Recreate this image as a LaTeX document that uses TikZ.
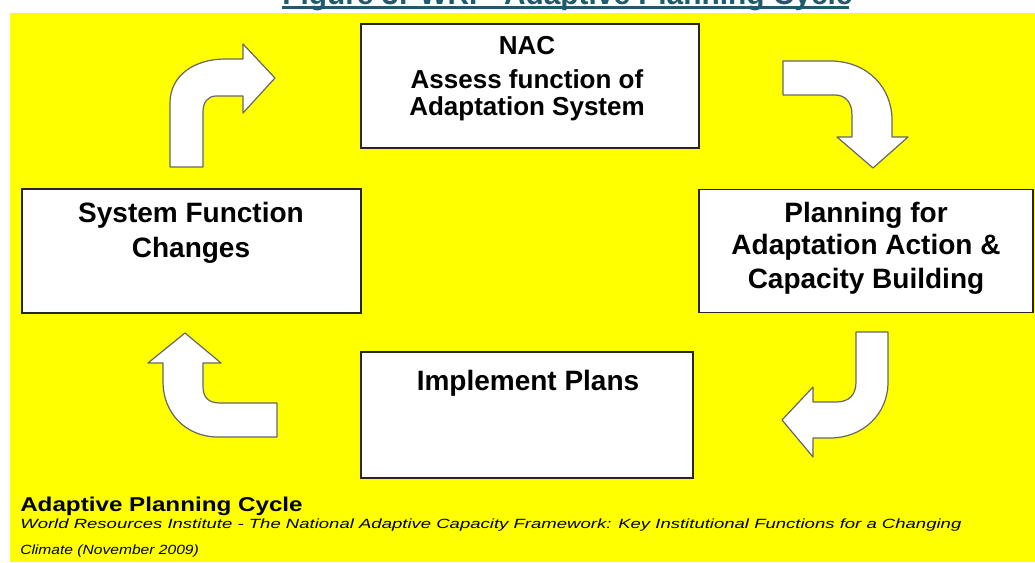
\documentclass[tikz,border=0pt]{standalone}
\usepackage{fontspec}
\setmainfont{Liberation Sans}
\usepackage{graphicx}
\definecolor{bgyellow}{RGB}{255,255,0}
\definecolor{titleteal}{RGB}{31,90,110}
\begin{document}
\begin{tikzpicture}[x=0.75pt,y=-0.75pt,
  box/.style={draw=black!85, fill=white, line width=1.1pt, inner sep=0pt},
  big/.style={font=\fontsize{21}{25}\selectfont\bfseries, inner sep=0pt, anchor=base},
  nactxt/.style={font=\fontsize{19.5}{23}\selectfont\bfseries, inner sep=0pt, anchor=base},
  barrow/.style={fill=white, draw=black!60, line width=0.9pt, line join=round},
  srctxt/.style={font=\fontsize{10}{12}\selectfont\itshape, inner sep=0pt, anchor=base west},
]
\useasboundingbox (0,0) rectangle (1035,562);
% title (cut at top)
\begin{scope}
\clip (0,0) rectangle (1035,562);
\node[font=\fontsize{22.4}{26}\selectfont\bfseries, text=titleteal, anchor=base west, inner sep=0pt] (title) at (282,4) {Figure 3: WRI - Adaptive Planning Cycle};
\end{scope}
\coordinate (ul1) at (282,7.3);
\coordinate (ul2) at (849,7.3);
\draw[titleteal, line width=1.9pt] (ul1) -- (ul2);
% yellow background
\fill[bgyellow] (10,13) rectangle (1035,562);

% boxes
\node[box, minimum width=338*0.75pt, minimum height=124*0.75pt] (nac) at (530,86) {};
\node[box, minimum width=339*0.75pt, minimum height=124*0.75pt] (sfc) at (191.5,251) {};
\node[box, minimum width=334*0.75pt, minimum height=123*0.75pt] (plan) at (866,251) {};
\node[box, minimum width=332*0.75pt, minimum height=126*0.75pt] (impl) at (527,415) {};

% texts
\node[nactxt] (nac1) at (527,54) {NAC};
\node[nactxt] (nac2) at (527,88) {Assess function of};
\node[nactxt] (nac3) at (527,115) {Adaptation System};
\node[big] (sfc1) at (191,222) {System Function};
\node[big] (sfc2) at (191,257) {Changes};
\node[big] (plan1) at (866,222) {Planning for};
\node[big] (plan2) at (866,254) {Adaptation Action \&};
\node[big] (plan3) at (866,288) {Capacity Building};
\node[big] (impl1) at (528,390) {Implement Plans};

% curved block arrows
\draw[barrow] (170,167) -- (170,103) .. controls (170,75) and (195,59) .. (225,59)
  -- (243,59) -- (243,44) -- (275,78) -- (243,113) -- (243,96) -- (216,96)
  .. controls (208,96) and (203,102) .. (203,112) -- (203,167) -- cycle;
\draw[barrow] (783,61) -- (830,61) .. controls (868,61) and (892,88) .. (892,120)
  -- (892,137) -- (908,137) -- (873,168) -- (837,137) -- (852,137) -- (852,115)
  .. controls (852,103) and (846,95) .. (835,95) -- (783,95) -- cycle;
\draw[barrow] (888,332) -- (888,382) .. controls (888,415) and (862,438) .. (830,438)
  -- (813,438) -- (813,457) -- (782,420) -- (813,387) -- (813,402) -- (836,402)
  .. controls (849,402) and (856,395) .. (856,382) -- (856,332) -- cycle;
\draw[barrow] (277,437) -- (218,437) .. controls (185,437) and (163,412) .. (163,382)
  -- (163,363) -- (148,363) -- (185,333) -- (221,363) -- (203,363) -- (203,386)
  .. controls (203,397) and (208,403) .. (220,403) -- (277,403) -- cycle;

% caption
\node[font=\fontsize{15}{18}\selectfont\bfseries, inner sep=0pt, anchor=base west] (cap) at (20,511) {\scalebox{1.21}[1]{Adaptive Planning Cycle}};
\node[srctxt] (src1) at (20,528) {\scalebox{1.39}[1]{World Resources Institute - The National Adaptive Capacity Framework: Key Institutional Functions for a Changing}};
\node[srctxt] (src2) at (20,554) {\scalebox{1.17}[1]{Climate (November 2009)}};
\end{tikzpicture}
\end{document}
